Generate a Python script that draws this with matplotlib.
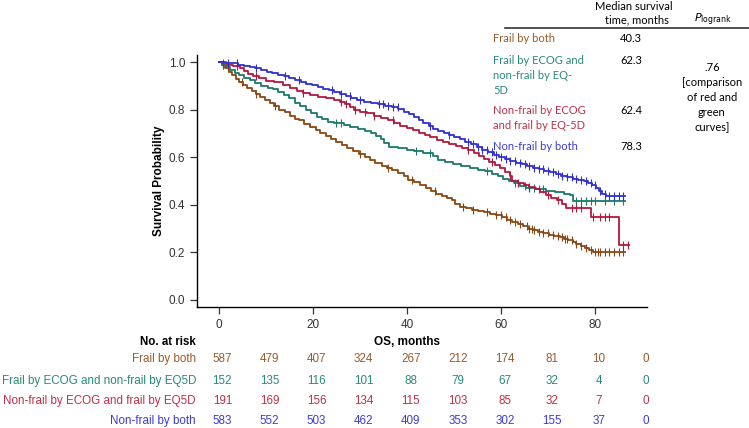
import numpy as np
import matplotlib
matplotlib.use("Agg")
import matplotlib.pyplot as plt

# Curvas de sobrevida (tempo em meses, probabilidade)
t_brown = [0, 0.7, 1.3, 2.1, 2.8, 3.6, 4.4, 5.2, 6.1, 7.0, 7.9, 8.8, 9.9, 11.0, 11.8, 12.9, 14.0, 15.2, 16.3, 17.1,
           18.2, 19.4, 20.6, 21.5, 22.7, 23.9, 25.0, 26.2, 27.3, 28.6, 29.8, 31.0, 32.1, 33.3, 34.6, 35.7, 36.9,
           38.2, 39.3, 40.3, 41.5, 42.8, 44.0, 45.1, 46.2, 47.4, 48.6, 49.5, 50.3, 51.2, 52.5, 53.8, 55.1, 56.4,
           57.7, 59.0, 60.2, 61.3, 62.4, 63.5, 64.6, 65.7, 66.8, 67.9, 69.0, 70.1, 71.3, 72.5, 73.4, 74.3, 75.2,
           76.0, 76.9, 77.8, 78.7, 79.5, 86.4]
s_brown = [1.0, 0.99, 0.975, 0.96, 0.945, 0.93, 0.915, 0.905, 0.89, 0.878, 0.866, 0.855, 0.842, 0.83, 0.815, 0.8,
           0.79, 0.775, 0.762, 0.755, 0.74, 0.728, 0.715, 0.702, 0.69, 0.676, 0.662, 0.65, 0.638, 0.625, 0.612,
           0.6, 0.59, 0.576, 0.565, 0.556, 0.545, 0.533, 0.52, 0.505, 0.495, 0.482, 0.47, 0.458, 0.445, 0.437,
           0.43, 0.42, 0.405, 0.392, 0.387, 0.38, 0.375, 0.37, 0.362, 0.355, 0.347, 0.338, 0.328, 0.318, 0.31,
           0.3, 0.293, 0.286, 0.28, 0.274, 0.27, 0.265, 0.258, 0.25, 0.243, 0.235, 0.226, 0.218, 0.21, 0.2, 0.2]

t_teal = [0, 0.8, 1.6, 2.5, 3.4, 4.3, 5.3, 6.6, 7.8, 9.0, 10.4, 11.5, 12.7, 13.9, 15.0, 16.2, 17.3, 18.5, 19.6,
          20.8, 22.0, 23.2, 24.5, 26.7, 28.0, 29.5, 31.0, 32.4, 33.5, 34.4, 35.2, 36.1, 38.0, 40.0, 41.5, 43.5,
          45.5, 46.5, 48.0, 49.8, 51.5, 53.4, 55.0, 56.6, 58.0, 59.3, 60.5, 61.7, 62.8, 64.0, 65.3, 67.5, 69.5,
          71.5, 73.4, 74.6, 75.3, 86.4]
s_teal = [1.0, 0.99, 0.98, 0.968, 0.955, 0.945, 0.935, 0.925, 0.912, 0.9, 0.893, 0.886, 0.875, 0.862, 0.848, 0.83,
          0.815, 0.8, 0.785, 0.77, 0.76, 0.75, 0.745, 0.737, 0.728, 0.72, 0.71, 0.7, 0.69, 0.675, 0.66, 0.645,
          0.64, 0.632, 0.625, 0.618, 0.605, 0.59, 0.58, 0.57, 0.562, 0.555, 0.547, 0.54, 0.53, 0.52, 0.51, 0.5,
          0.49, 0.48, 0.472, 0.465, 0.458, 0.454, 0.447, 0.44, 0.417, 0.417]

t_red = [0, 0.8, 1.8, 3.0, 4.5, 5.4, 6.3, 7.3, 8.5, 10.0, 11.8, 13.7, 15.2, 16.6, 18.0, 19.5, 21.0, 22.8, 24.5,
         25.7, 26.8, 27.8, 28.8, 30.0, 31.5, 33.0, 34.5, 36.0, 37.3, 38.5, 40.0, 41.3, 42.6, 43.8, 45.0, 46.3,
         47.6, 49.0, 50.5, 51.8, 53.0, 54.2, 55.3, 56.4, 57.5, 58.7, 59.8, 60.9, 61.8, 62.4, 63.5, 64.8, 66.0,
         67.2, 68.3, 69.5, 70.6, 71.8, 73.0, 73.8, 79.2, 85.1, 87.2]
s_red = [1.0, 0.995, 0.99, 0.985, 0.975, 0.962, 0.95, 0.94, 0.932, 0.922, 0.915, 0.905, 0.893, 0.88, 0.872, 0.863,
         0.855, 0.848, 0.84, 0.832, 0.822, 0.81, 0.797, 0.79, 0.784, 0.775, 0.766, 0.755, 0.742, 0.73, 0.722,
         0.713, 0.704, 0.694, 0.683, 0.672, 0.663, 0.655, 0.648, 0.64, 0.63, 0.618, 0.605, 0.594, 0.582, 0.568,
         0.553, 0.537, 0.52, 0.5, 0.492, 0.483, 0.475, 0.465, 0.455, 0.44, 0.428, 0.418, 0.405, 0.388, 0.347,
         0.232, 0.232]

t_blue = [0, 1.5, 3.0, 4.2, 5.4, 6.6, 7.8, 9.0, 10.2, 11.4, 12.6, 13.8, 15.0, 16.2, 17.4, 18.6, 19.8, 21.0, 22.2,
          23.4, 24.6, 25.8, 27.0, 28.2, 29.4, 30.8, 32.3, 33.8, 35.3, 36.8, 38.2, 39.4, 40.5, 41.5, 42.5, 43.5,
          44.6, 45.6, 46.7, 47.8, 48.9, 50.0, 51.2, 52.4, 53.6, 54.8, 56.0, 57.2, 58.4, 59.6, 60.8, 62.0, 63.2,
          64.4, 65.6, 66.8, 68.0, 69.2, 70.4, 71.6, 72.8, 74.0, 75.2, 76.4, 77.6, 78.5, 79.3, 80.1, 80.8, 81.5,
          82.3, 86.4]
s_blue = [1.0, 0.998, 0.995, 0.99, 0.985, 0.98, 0.974, 0.967, 0.96, 0.953, 0.946, 0.94, 0.932, 0.925, 0.918, 0.91,
          0.903, 0.895, 0.888, 0.881, 0.874, 0.866, 0.857, 0.848, 0.84, 0.834, 0.828, 0.822, 0.816, 0.81, 0.802,
          0.792, 0.781, 0.77, 0.758, 0.746, 0.733, 0.72, 0.712, 0.703, 0.694, 0.685, 0.675, 0.664, 0.654, 0.643,
          0.632, 0.621, 0.61, 0.602, 0.594, 0.585, 0.577, 0.57, 0.563, 0.556, 0.549, 0.543, 0.537, 0.53, 0.523,
          0.516, 0.51, 0.504, 0.5, 0.492, 0.483, 0.472, 0.46, 0.447, 0.435, 0.435]

# Tempos de censura (marcas +)
c_brown = [1, 2, 5, 8, 12, 30, 36, 41, 46, 52, 54, 57, 59, 60, 61, 62, 63, 64, 65.5, 66, 66.5, 67, 68, 69, 70,
           71, 72, 73, 73.5, 74, 75, 76, 77, 78, 79, 80, 80.5, 81, 82, 83, 84, 85, 86]
c_teal = [1, 25, 26, 42, 45, 57, 63, 65, 66, 67, 68, 69, 76, 77, 78, 79, 80, 82, 84, 86]
c_red = [1, 2, 4, 8, 18, 26, 27, 29, 31, 33, 37, 53, 58, 62, 63.5, 66, 70, 72, 75, 76, 77, 79.5, 81, 82, 83, 86, 87]
c_blue = [2, 4, 8, 14, 17, 24, 26, 28, 30, 34, 35, 36, 37, 38, 45, 49, 53, 54, 55, 56, 57, 58, 59, 60, 61, 62,
          63, 64, 65, 66, 67, 68, 69, 70, 71, 72, 73, 74, 75, 76, 77, 78, 79, 80, 81, 82, 83, 84, 85, 86]

# Tabela de pacientes em risco
risk_times = [0, 10, 20, 30, 40, 50, 60, 70, 80, 90]
risk_brown = [587, 479, 407, 324, 267, 212, 174, 81, 10, 0]
risk_teal = [152, 135, 116, 101, 88, 79, 67, 32, 4, 0]
risk_red = [191, 169, 156, 134, 115, 103, 85, 32, 7, 0]
risk_blue = [583, 552, 503, 462, 409, 353, 302, 155, 37, 0]

risk_labels = ["Frail by both", "Frail by ECOG and non-frail by EQ5D",
               "Non-frail by ECOG and frail by EQ5D", "Non-frail by both"]
legend_labels = ["Frail by both", "Frail by ECOG and\nnon-frail by EQ-\n5D",
                 "Non-frail by ECOG\nand frail by EQ-5D", "Non-frail by both"]
medians = ["40.3", "62.3", "62.4", "78.3"]

line_colors = ["#8b4513", "#1b7a6a", "#b5173b", "#2f2fd2"]
text_colors = ["#9a5a2c", "#2a897a", "#c0304a", "#3c3cd8"]

W, H = 749, 428
fig = plt.figure(figsize=(W / 100, H / 100), dpi=100)
plt.rcParams['font.family'] = ['Liberation Sans', 'DejaVu Sans']

ax = fig.add_axes([197 / W, 1 - 307 / H, (647 - 197) / W, (307 - 55) / H])

curvas = [(t_brown, s_brown, c_brown), (t_teal, s_teal, c_teal),
          (t_red, s_red, c_red), (t_blue, s_blue, c_blue)]

for (t, s, c), cor in zip(curvas, line_colors):
    t = np.array(t)
    s = np.array(s)
    ax.step(t, s, where="post", color=cor, lw=1.3)
    c = np.array(c)
    idx = np.searchsorted(t, c, side="right") - 1
    ax.plot(c, s[idx], ls="none", marker="|", ms=6, mew=0.8, color=cor)

ax.set_xlim(-4.6, 91)
ax.set_ylim(-0.03, 1.03)
ax.set_xticks([0, 20, 40, 60, 80])
ax.set_yticks([0.0, 0.2, 0.4, 0.6, 0.8, 1.0])
ax.set_yticklabels(["0.0", "0.2", "0.4", "0.6", "0.8", "1.0"])
ax.spines["top"].set_visible(False)
ax.spines["right"].set_visible(False)
ax.spines["left"].set_linewidth(1.0)
ax.spines["bottom"].set_linewidth(1.0)
ax.tick_params(labelsize=8.5, colors="#333333", length=5, width=0.9)
ax.set_ylabel("Survival Probability", fontsize=8.5, fontweight="bold", labelpad=3)

# titulo do eixo x e "No. at risk" na mesma linha
fig.text(407 / W, 1 - 342 / H, "OS, months", ha="center", va="center",
         fontsize=8.5, fontweight="bold")
fig.text(196 / W, 1 - 342 / H, "No. at risk", ha="right", va="center",
         fontsize=8.3, fontweight="bold")

rows_y = [359, 381, 401, 421]
risk_rows = [risk_brown, risk_teal, risk_red, risk_blue]
for lab, vals, cor, yy in zip(risk_labels, risk_rows, text_colors, rows_y):
    fig.text(196 / W, 1 - yy / H, lab, ha="right", va="center", fontsize=8.4, color=cor)
    for tt, v in zip(risk_times, vals):
        xpix = ax.transData.transform((tt + 0.8, 0))[0]
        fig.text(xpix / W, 1 - yy / H, str(v), ha="center", va="center", fontsize=8.4, color=cor)

# tabela da direita (mediana e p)
tab_font = ['Lato', 'DejaVu Sans']
fig.text(634 / W, 1 - 6 / H, "Median survival", ha="center", va="center",
         fontsize=8, family=tab_font)
fig.text(637 / W, 1 - 20 / H, "time, months", ha="center", va="center",
         fontsize=8, family=tab_font)
fig.text(713 / W, 1 - 20 / H, r"$P_{\mathrm{logrank}}$", ha="center", va="center",
         fontsize=8)
fig.add_artist(plt.Line2D([505 / W, 1.0], [1 - 27.5 / H, 1 - 27.5 / H],
                          color="#333333", lw=1.2, transform=fig.transFigure))

leg_y = [39, 61, 111, 147]
for lab, med, cor, yy in zip(legend_labels, medians, text_colors, leg_y):
    fig.text(493 / W, 1 - (yy - 6) / H, lab, ha="left", va="top", fontsize=8,
             color=cor, family=tab_font, linespacing=1.45)
    fig.text(620 / W, 1 - (yy - 6) / H, med, ha="left", va="top", fontsize=8,
             family=tab_font)

fig.text(712 / W, 1 - 62 / H, ".76\n[comparison\nof red and\ngreen\ncurves]",
         ha="center", va="top", fontsize=8, family=tab_font, linespacing=1.45)

fig.savefig("out.png", dpi=100)
